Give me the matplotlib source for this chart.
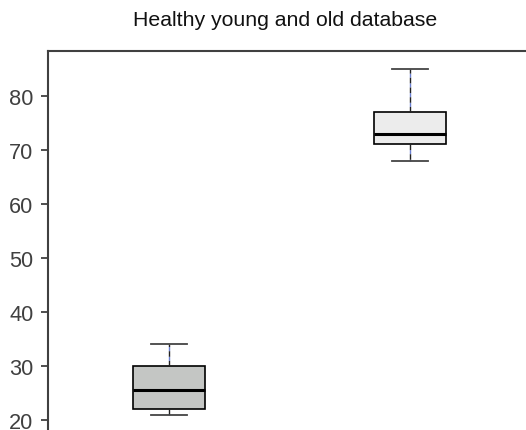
import matplotlib
matplotlib.use("Agg")
import matplotlib.pyplot as plt

plt.rcParams["font.family"] = ["Liberation Sans", "DejaVu Sans"]

# group summaries (ages)
groups = ["young", "old"]
whisker_low = [21, 68]
q1 = [22, 71]
median = [25.5, 73]
q3 = [30, 77]
whisker_high = [34, 85]
fills = ["#c4c6c4", "#ececec"]

stats = []
for i, g in enumerate(groups):
    stats.append(dict(label=g, whislo=whisker_low[i], q1=q1[i], med=median[i],
                      q3=q3[i], whishi=whisker_high[i], fliers=[]))

fig = plt.figure(figsize=(5.26, 4.31), dpi=100)
ax = fig.add_axes([48 / 526, -29 / 431, 512 / 526, 0.9455])

bp = ax.bxp(stats, positions=[1, 2], widths=0.30, patch_artist=True,
            showfliers=False,
            boxprops=dict(edgecolor="black", linewidth=1.2),
            medianprops=dict(color="black", linewidth=2.2),
            whiskerprops=dict(color="#222222", linestyle=(0, (4, 3)),
                              gapcolor="#6a7fd0", linewidth=1.0),
            capprops=dict(color="#444444", linewidth=1.3),
            capwidths=0.15)
for patch, c in zip(bp["boxes"], fills):
    patch.set_facecolor(c)

ax.set_xlim(0.498, 2.622)
ax.set_ylim(12.8, 88.2)
ax.set_yticks([20, 30, 40, 50, 60, 70, 80])
ax.set_xticks([])

for s in ["right", "bottom"]:
    ax.spines[s].set_visible(False)
for s in ["left", "top"]:
    ax.spines[s].set_color("#404040")
    ax.spines[s].set_linewidth(1.5)

ax.tick_params(axis="y", direction="out", length=5, width=1.3, color="#404040",
               labelcolor="#404040", labelsize=15.7, pad=5.5)

fig.text(285 / 526, 1 - 21 / 431, "Healthy young and old database",
         ha="center", va="center", fontsize=15.3, color="#111111")

fig.savefig("out.png", dpi=100)
